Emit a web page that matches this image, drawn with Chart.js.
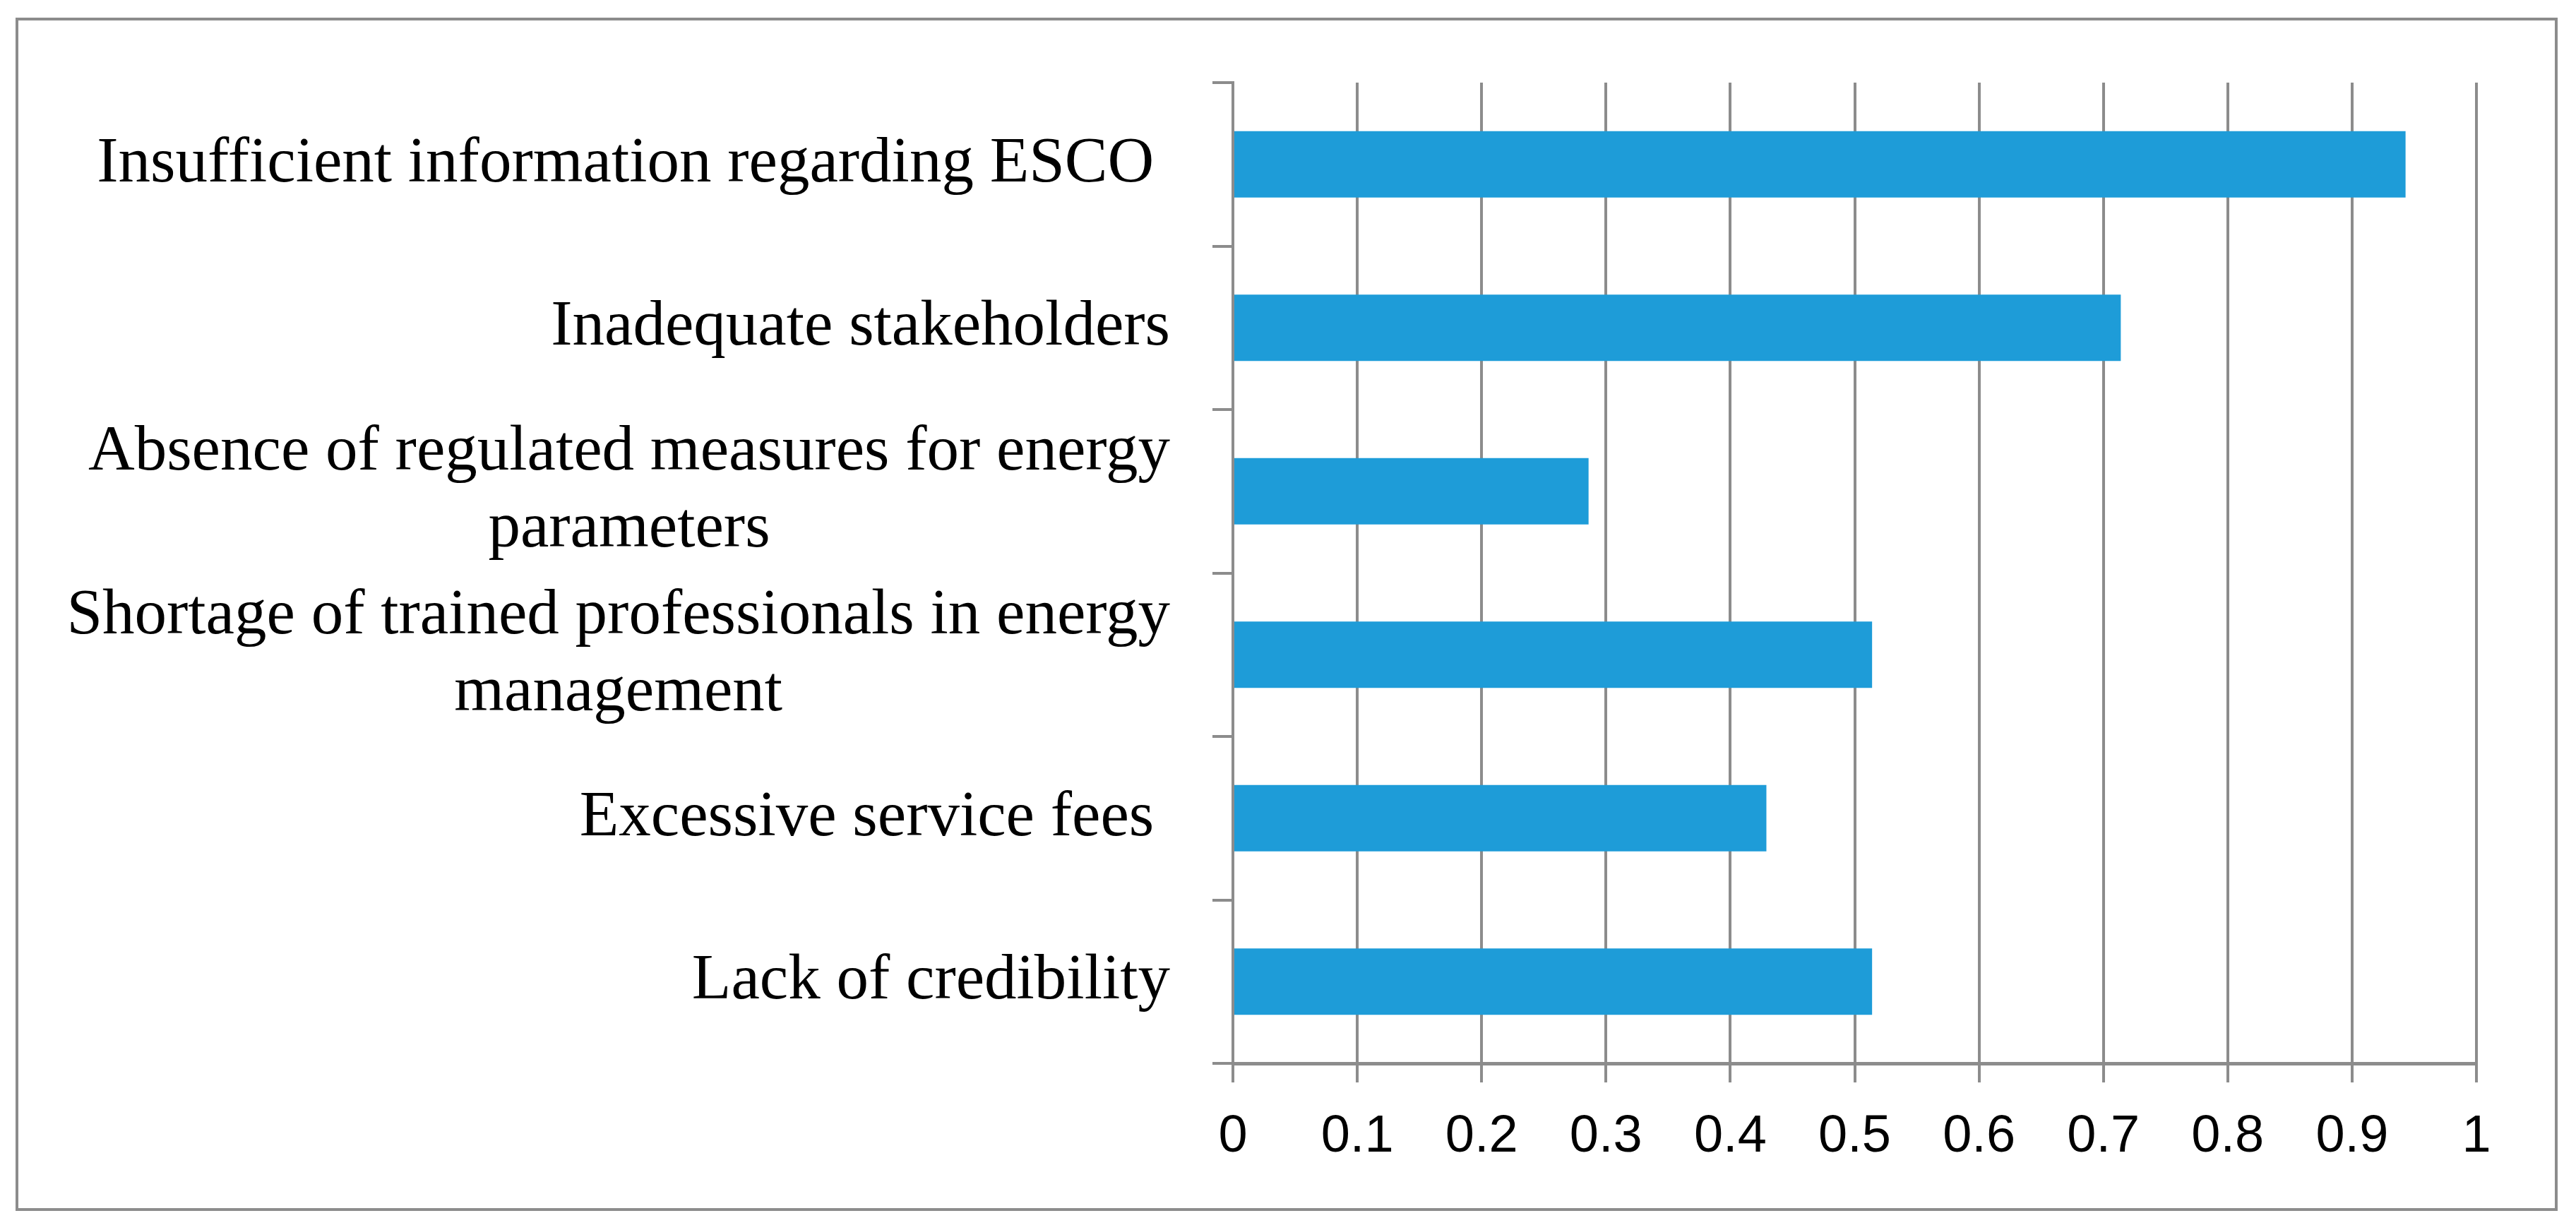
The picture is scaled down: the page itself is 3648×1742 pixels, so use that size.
<!DOCTYPE html>
<html>
<head>
<meta charset="utf-8">
<script src="https://cdn.jsdelivr.net/npm/chart.js@4.4.1/dist/chart.umd.min.js"></script>
<style>
	html, body { margin: 0; padding: 0; background: #fff; }
	#wrap { position: relative; width: 3648px; height: 1742px; }
	#frame {
		position: absolute; left: 22px; top: 25px; width: 3600px; height: 1690px;
		border: 4px solid #8c8c8c; box-sizing: border-box;
	}
	#chart { position: absolute; left: 0; top: 0; }
</style>
</head>
<body>
<div id="wrap">
	<div id="frame"></div>
	<canvas id="chart" width="3648" height="1742"></canvas>
</div>
<script>
	// Barrier labels, top to bottom (trailing spaces kept as in the source chart)
	const categories = [
		'Insufficient information regarding ESCO ',
		'Inadequate stakeholders',
		['Absence of regulated measures for energy', 'parameters'],
		['Shortage of trained professionals in energy', 'management'],
		'Excessive service fees ',
		'Lack of credibility'
	];
	const values = [0.943, 0.714, 0.286, 0.514, 0.429, 0.514];
	const xMin = 0;
	const xMax = 1;
	const xStep = 0.1;

	const GRID = '#8c8c8c';
	const BAR = '#1e9cd8';
	const LABEL_FONT = '91px "Liberation Serif", serif';
	const LINE_H = 109;

	// Category labels: block right-aligned, lines centred inside the block
	const wrappedLabels = {
		id: 'wrappedLabels',
		afterDraw: function(chart) {
			const ctx = chart.ctx;
			const y = chart.scales.y;
			const right = y.right - 29 - 60;
			ctx.save();
			ctx.font = LABEL_FONT;
			ctx.fillStyle = '#000';
			ctx.textAlign = 'center';
			ctx.textBaseline = 'middle';
			categories.forEach(function(lab, i) {
				const lines = Array.isArray(lab) ? lab : [lab];
				const w = Math.max.apply(null, lines.map(function(l) { return ctx.measureText(l).width; }));
				const cx = right - w / 2;
				const cy = y.getPixelForTick(i);
				lines.forEach(function(l, k) {
					ctx.fillText(l, cx, cy + (k - (lines.length - 1) / 2) * LINE_H);
				});
			});
			ctx.restore();
		}
	};

	new Chart(document.getElementById('chart'), {
		type: 'bar',
		data: {
			labels: categories,
			datasets: [{
				data: values,
				backgroundColor: BAR,
				borderWidth: 0,
				categoryPercentage: 1,
				barPercentage: 0.406
			}]
		},
		options: {
			indexAxis: 'y',
			responsive: false,
			devicePixelRatio: 1,
			animation: false,
			layout: { padding: { left: 30, top: 117, right: 141, bottom: 30 } },
			plugins: {
				legend: { display: false },
				tooltip: { enabled: false }
			},
			scales: {
				x: {
					min: xMin,
					max: xMax,
					ticks: {
						stepSize: xStep,
						color: '#000',
						padding: 33,
						font: { family: '"Liberation Sans", sans-serif', size: 74 },
						callback: function(v) { return String(Math.round(v * 10) / 10); }
					},
					grid: { color: GRID, lineWidth: 4, tickLength: 27 },
					border: { color: GRID, width: 5 },
					afterFit: function(s) { s.height = 206; }
				},
				y: {
					ticks: { display: false },
					grid: {
						offset: true,
						drawOnChartArea: false,
						drawTicks: true,
						tickLength: 29,
						color: GRID,
						lineWidth: 4
					},
					border: { color: GRID, width: 4 },
					afterFit: function(s) { s.width = 1716; }
				}
			}
		},
		plugins: [wrappedLabels]
	});
</script>
</body>
</html>
